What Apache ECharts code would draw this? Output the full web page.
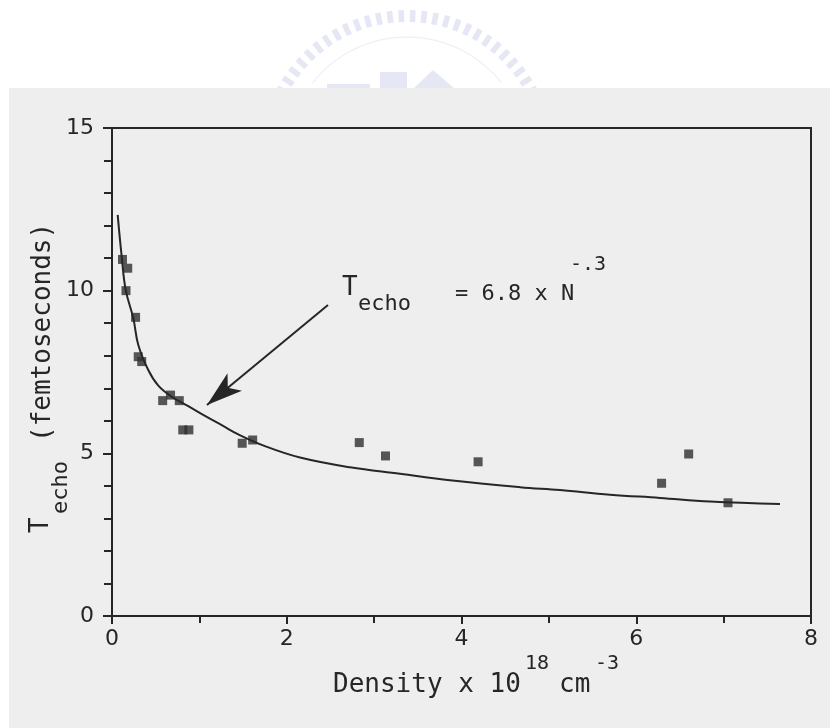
<!DOCTYPE html>
<html><head><meta charset="utf-8">
<script src="https://cdn.jsdelivr.net/npm/echarts@6/dist/echarts.min.js"></script>
<style>html,body{margin:0;padding:0;background:#fff}#c{width:830px;height:728px}</style>
</head><body><div id="c"></div>
<script>
// measured points (density x 1e18 cm^-3, T_echo fs)
const measuredDensity = [0.12, 0.18, 0.16, 0.27, 0.30, 0.34, 0.58, 0.67, 0.77, 0.81, 0.88, 1.49, 1.61, 2.83, 3.13, 4.19, 6.29, 6.60, 7.05];
const measuredTecho   = [10.96, 10.69, 10.00, 9.18, 7.97, 7.82, 6.62, 6.79, 6.62, 5.72, 5.72, 5.31, 5.41, 5.33, 4.92, 4.74, 4.08, 4.98, 3.48];
// fitted curve as drawn
const fitDensity = [0.065, 0.111, 0.157, 0.244, 0.301, 0.415, 0.530, 0.683, 0.873, 1.064, 1.266, 1.446, 1.751, 2.152, 2.724, 3.296, 3.868, 4.670, 5.127, 5.700, 6.272, 6.844, 7.645];
const fitTecho   = [12.33, 11.05, 10.02, 9.15, 8.33, 7.56, 7.08, 6.74, 6.45, 6.15, 5.85, 5.58, 5.22, 4.87, 4.57, 4.37, 4.17, 3.96, 3.87, 3.73, 3.63, 3.52, 3.44];
// arrow annotation (data coords): tail and tip
const arrowTail = [2.472, 9.56];
const arrowTip  = [1.087, 6.486];
const xTicks = [0, 2, 4, 6, 8];
const yTicks = [0, 5, 10, 15];

const INK = '#262626';
const mono = 'DejaVu Sans Mono';

// watermark (decoration)
const wm = [];
const cx = 407, cy = 157, wmCol = 'rgba(160,170,220,0.28)';
const nD = 28;
for (let i = 0; i < nD; i++) {
  const th = (-62 + 124 * i / (nD - 1)) * Math.PI / 180;
  const r1 = 135, r2 = 147, hw = 2.8;
  const s = Math.sin(th), c = Math.cos(th);
  const p = (r, o) => [cx + r * s + o * c, cy - r * c + o * s];
  wm.push({type: 'polygon', z: -20, silent: true, shape: {points: [p(r1, -hw), p(r2, -hw), p(r2, hw), p(r1, hw)]}, style: {fill: wmCol}});
}
const arcPts = [];
for (let a = -52; a <= 52; a += 2) {
  const th = a * Math.PI / 180;
  arcPts.push([cx + 120 * Math.sin(th), cy - 120 * Math.cos(th)]);
}
wm.push({type: 'polyline', z: -20, silent: true, shape: {points: arcPts}, style: {stroke: 'rgba(160,170,220,0.18)', lineWidth: 1.2, fill: null}});
wm.push({type: 'rect', z: -20, silent: true, shape: {x: 327, y: 84, width: 43, height: 5}, style: {fill: wmCol}});
wm.push({type: 'rect', z: -20, silent: true, shape: {x: 380, y: 72, width: 27, height: 17}, style: {fill: wmCol}});
wm.push({type: 'polygon', z: -20, silent: true, shape: {points: [[413, 89], [433, 70], [455, 89]]}, style: {fill: wmCol}});

const chart = echarts.init(document.getElementById('c'));
const option = {
  backgroundColor: '#ffffff',
  animation: false,
  grid: {left: 112, right: 19, top: 128, bottom: 112, containLabel: false},
  xAxis: [{
    type: 'value', min: 0, max: 8, interval: 2,
    axisLine: {show: true, onZero: false, lineStyle: {color: INK, width: 2}},
    axisTick: {show: true, length: 8, lineStyle: {color: INK, width: 2}},
    minorTick: {show: true, splitNumber: 2, length: 7, lineStyle: {color: INK, width: 2}},
    axisLabel: {color: INK, fontFamily: 'DejaVu Sans', fontSize: 22, margin: 12,
      formatter: v => xTicks.includes(v) ? String(v) : ''},
    splitLine: {show: false}
  }, {
    type: 'value', min: 0, max: 8, position: 'top',
    axisLine: {show: true, onZero: false, lineStyle: {color: INK, width: 2}},
    axisTick: {show: false}, axisLabel: {show: false}, splitLine: {show: false}
  }],
  yAxis: [{
    type: 'value', min: 0, max: 15, interval: 5,
    axisLine: {show: true, onZero: false, lineStyle: {color: INK, width: 2}},
    axisTick: {show: true, length: 9, lineStyle: {color: INK, width: 2}},
    minorTick: {show: true, splitNumber: 5, length: 8, lineStyle: {color: INK, width: 2}},
    axisLabel: {color: INK, fontFamily: 'DejaVu Sans', fontSize: 22, margin: 18,
      formatter: v => yTicks.includes(v) ? String(v) : ''},
    splitLine: {show: false}
  }, {
    type: 'value', min: 0, max: 15, position: 'right',
    axisLine: {show: true, onZero: false, lineStyle: {color: INK, width: 2}},
    axisTick: {show: false}, axisLabel: {show: false}, splitLine: {show: false}
  }],
  series: [{
    type: 'line',
    data: fitDensity.map((x, i) => [x, fitTecho[i]]),
    showSymbol: false, smooth: 0.4,
    lineStyle: {color: INK, width: 2},
    silent: true,
    markLine: {
      silent: true, symbol: ['none', 'arrow'], symbolSize: [17, 36],
      label: {show: false},
      lineStyle: {color: INK, width: 2, type: 'solid'},
      data: [[{coord: arrowTail}, {coord: arrowTip}]]
    }
  }, {
    type: 'scatter',
    data: measuredDensity.map((x, i) => [x, measuredTecho[i]]),
    symbol: 'rect', symbolSize: 9,
    itemStyle: {color: '#2e2e2e'},
    silent: true
  }],
  graphic: wm.concat([
    {type: 'rect', z: -10, silent: true, shape: {x: 9, y: 88, width: 821, height: 640}, style: {fill: '#eeeeee'}},
    // y axis title
    {type: 'text', z: 50, x: 41, y: 533, rotation: Math.PI / 2, style: {text: 'T', font: '26px ' + mono, fill: INK, align: 'left', verticalAlign: 'middle'}},
    {type: 'text', z: 50, x: 61, y: 514, rotation: Math.PI / 2, style: {text: 'echo', font: '22px ' + mono, fill: INK, align: 'left', verticalAlign: 'middle'}},
    {type: 'text', z: 50, x: 43, y: 442, rotation: Math.PI / 2, style: {text: '(femtoseconds)', font: '26px ' + mono, fill: INK, align: 'left', verticalAlign: 'middle'}},
    // x axis title
    {type: 'text', z: 50, x: 333, y: 685, style: {text: 'Density x 10', font: '26px ' + mono, fill: INK, align: 'left', verticalAlign: 'middle'}},
    {type: 'text', z: 50, x: 525, y: 664, style: {text: '18', font: '20px ' + mono, fill: INK, align: 'left', verticalAlign: 'middle'}},
    {type: 'text', z: 50, x: 559, y: 685, style: {text: 'cm', font: '26px ' + mono, fill: INK, align: 'left', verticalAlign: 'middle'}},
    {type: 'text', z: 50, x: 595, y: 664, style: {text: '-3', font: '20px ' + mono, fill: INK, align: 'left', verticalAlign: 'middle'}},
    // formula annotation
    {type: 'text', z: 50, x: 342, y: 288, style: {text: 'T', font: '26px ' + mono, fill: INK, align: 'left', verticalAlign: 'middle'}},
    {type: 'text', z: 50, x: 358, y: 304, style: {text: 'echo', font: '22px ' + mono, fill: INK, align: 'left', verticalAlign: 'middle'}},
    {type: 'text', z: 50, x: 455, y: 294, style: {text: '= 6.8 x N', font: '22px ' + mono, fill: INK, align: 'left', verticalAlign: 'middle'}},
    {type: 'text', z: 50, x: 570, y: 265, style: {text: '-.3', font: '20px ' + mono, fill: INK, align: 'left', verticalAlign: 'middle'}}
  ])
};
chart.setOption(option);
</script>
</body></html>
